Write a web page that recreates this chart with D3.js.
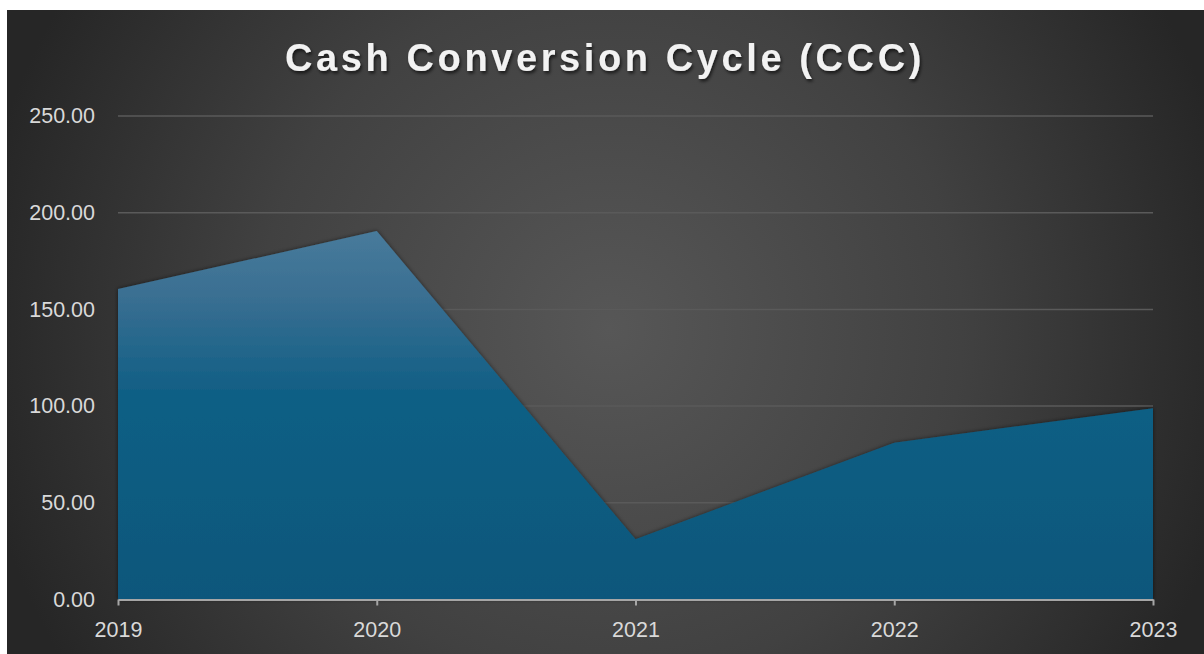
<!DOCTYPE html>
<html>
<head>
<meta charset="utf-8">
<script src="https://cdn.jsdelivr.net/npm/d3@7"></script>
<style>
  html, body { margin: 0; padding: 0; background: #ffffff; }
  svg { display: block; }
</style>
</head>
<body>
<svg id="chart" width="1204" height="654"></svg>
<script>
// Cash conversion cycle in days, per fiscal year
const years = ["2019", "2020", "2021", "2022", "2023"];
const cccDays = [160.5, 190.5, 31.1, 81.1, 98.9];
const yTicks = [0, 50, 100, 150, 200, 250];
const chartTitle = "Cash Conversion Cycle (CCC)";

const W = 1204, H = 654;
const frame = { x: 7, y: 10 };
const plot = { left: 118, right: 1153, top: 116, bottom: 599.5 };
const labelFont = "Liberation Sans, Arial, sans-serif";

const svg = d3.select("#chart");
const defs = svg.append("defs");

// Dark radial backdrop
const bg = defs.append("radialGradient").attr("id", "bgGrad")
  .attr("gradientUnits", "userSpaceOnUse")
  .attr("cx", 610).attr("cy", 330).attr("r", 640);
bg.append("stop").attr("offset", "0%").attr("stop-color", "#575757");
bg.append("stop").attr("offset", "55%").attr("stop-color", "#414141");
bg.append("stop").attr("offset", "100%").attr("stop-color", "#262626");

// Area fill: soft steel blue near the top fading into deep blue
const ag = defs.append("linearGradient").attr("id", "areaGrad")
  .attr("gradientUnits", "userSpaceOnUse")
  .attr("x1", 0).attr("x2", 0).attr("y1", 220).attr("y2", plot.bottom);
ag.append("stop").attr("offset", "0%").attr("stop-color", "#4a7d9d");
ag.append("stop").attr("offset", "20%").attr("stop-color", "#3a6f92");
ag.append("stop").attr("offset", "45%").attr("stop-color", "#115f85");
ag.append("stop").attr("offset", "100%").attr("stop-color", "#0a577b");

const shadow = defs.append("filter").attr("id", "areaShadow")
  .attr("x", "-5%").attr("y", "-10%").attr("width", "110%").attr("height", "120%");
shadow.append("feDropShadow").attr("dx", 0).attr("dy", 0).attr("stdDeviation", 2.2)
  .attr("flood-color", "#000").attr("flood-opacity", 0.55);

const tshadow = defs.append("filter").attr("id", "titleShadow")
  .attr("x", "-5%").attr("y", "-30%").attr("width", "110%").attr("height", "160%");
tshadow.append("feDropShadow").attr("dx", 1.5).attr("dy", 2.5).attr("stdDeviation", 1.8)
  .attr("flood-color", "#000").attr("flood-opacity", 0.6);

svg.append("rect")
  .attr("x", frame.x).attr("y", frame.y)
  .attr("width", W - frame.x).attr("height", H - frame.y)
  .attr("fill", "url(#bgGrad)");

const x = d3.scalePoint().domain(years).range([plot.left, plot.right]);
const y = d3.scaleLinear().domain([0, 250]).range([plot.bottom, plot.top]);

// Horizontal gridlines
svg.append("g")
  .selectAll("line")
  .data(yTicks.filter(t => t > 0))
  .join("line")
  .attr("x1", plot.left).attr("x2", plot.right)
  .attr("y1", d => y(d)).attr("y2", d => y(d))
  .attr("stroke", "#5a5a5a").attr("stroke-width", 1.5);

// Area series
const area = d3.area()
  .x((d, i) => x(years[i]))
  .y0(y(0))
  .y1(d => y(d));

svg.append("path")
  .datum(cccDays)
  .attr("d", area)
  .attr("fill", "url(#areaGrad)")
  .attr("filter", "url(#areaShadow)");

// Y axis labels
const yAxis = d3.axisLeft(y).tickValues(yTicks).tickFormat(d3.format(".2f")).tickSize(0).tickPadding(23);
const gy = svg.append("g").attr("transform", `translate(${plot.left},0)`).call(yAxis);
gy.select(".domain").remove();
gy.selectAll("text")
  .attr("fill", "#d9d9d9")
  .attr("font-family", labelFont)
  .attr("font-size", 21.5);

// X axis with short tick marks
const xAxis = d3.axisBottom(x).tickSize(6).tickSizeOuter(0).tickPadding(16);
const gx = svg.append("g").attr("transform", `translate(0,${plot.bottom})`).call(xAxis);
gx.select(".domain").attr("stroke", "#a6a6a6").attr("stroke-width", 2);
gx.selectAll(".tick line").attr("stroke", "#a6a6a6").attr("stroke-width", 2);
gx.selectAll("text")
  .attr("fill", "#d9d9d9")
  .attr("font-family", labelFont)
  .attr("font-size", 21.5);

// Title
svg.append("text")
  .attr("x", 605).attr("y", 71)
  .attr("text-anchor", "middle")
  .attr("fill", "#f2f2f2")
  .attr("font-family", labelFont)
  .attr("font-weight", "bold")
  .attr("font-size", 38)
  .attr("letter-spacing", 3.6)
  .attr("filter", "url(#titleShadow)")
  .text(chartTitle);
</script>
</body>
</html>
